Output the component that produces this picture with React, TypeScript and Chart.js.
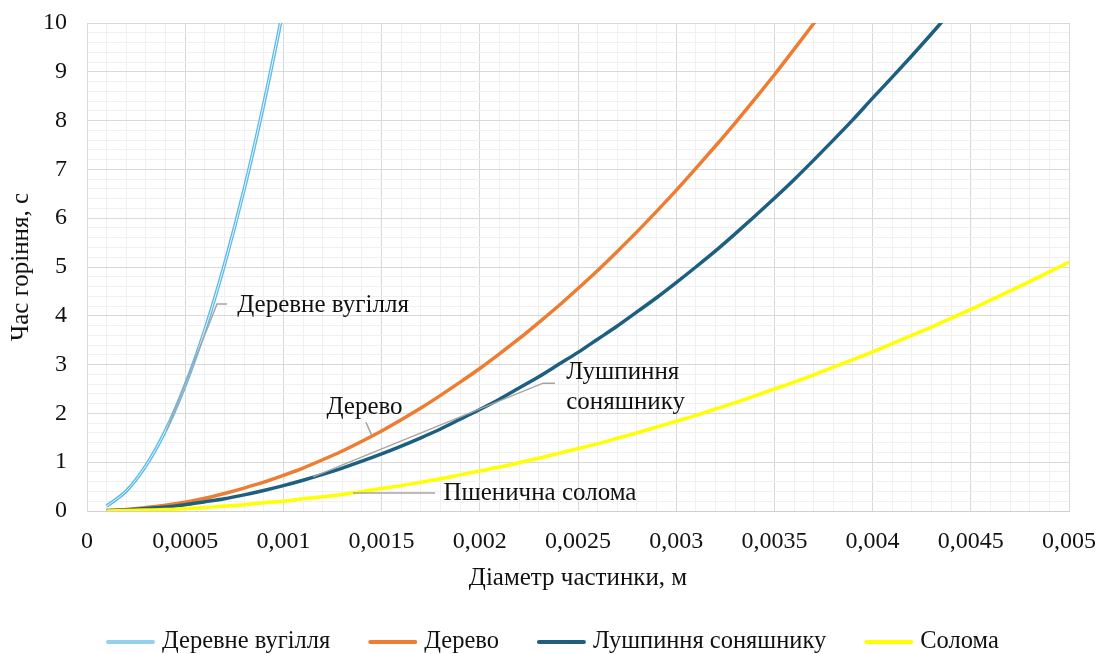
import React, { useEffect, useRef } from 'react';
import { Chart, registerables } from 'chart.js';

Chart.register(...registerables);

// Particle diameter, m
const diameters = [
  0.0001, 0.0002, 0.0003, 0.0004, 0.0005, 0.0006, 0.0007, 0.0008, 0.0009, 0.001,
  0.0011, 0.0012, 0.0013, 0.0014, 0.0015, 0.0016, 0.0017, 0.0018, 0.0019, 0.002,
  0.0021, 0.0022, 0.0023, 0.0024, 0.0025, 0.0026, 0.0027, 0.0028, 0.0029, 0.003,
  0.0031, 0.0032, 0.0033, 0.0034, 0.0035, 0.0036, 0.0037, 0.0038, 0.0039, 0.004,
  0.0041, 0.0042, 0.0043, 0.0044, 0.0045, 0.0046, 0.0047, 0.0048, 0.0049, 0.005,
];

// Burning time, s
const charcoal = [0.1, 0.41, 0.93, 1.65, 2.58, 3.71, 5.05, 6.59, 8.34, 10.3, 12.46];
const wood = [
  0.01, 0.03, 0.07, 0.12, 0.18, 0.26, 0.36, 0.47, 0.59, 0.73,
  0.88, 1.05, 1.23, 1.43, 1.64, 1.87, 2.11, 2.37, 2.64, 2.92,
  3.22, 3.53, 3.86, 4.2, 4.56, 4.93, 5.32, 5.72, 6.14, 6.57,
  7.02, 7.48, 7.95, 8.44, 8.94, 9.46, 9.99, 10.54,
];
const sunflowerHusk = [
  0.01, 0.02, 0.05, 0.08, 0.13, 0.19, 0.25, 0.33, 0.42, 0.52,
  0.63, 0.75, 0.88, 1.02, 1.17, 1.33, 1.5, 1.68, 1.88, 2.08,
  2.29, 2.52, 2.75, 3.0, 3.25, 3.52, 3.79, 4.08, 4.37, 4.68,
  5.0, 5.33, 5.68, 6.04, 6.41, 6.79, 7.19, 7.6, 8.02, 8.46,
  8.89, 9.33, 9.78, 10.24, 10.71,
];
const straw = [
  0.0, 0.01, 0.02, 0.03, 0.05, 0.07, 0.1, 0.13, 0.17, 0.2,
  0.25, 0.29, 0.34, 0.4, 0.46, 0.52, 0.59, 0.66, 0.74, 0.82,
  0.9, 0.99, 1.08, 1.18, 1.28, 1.38, 1.49, 1.6, 1.72, 1.84,
  1.96, 2.09, 2.22, 2.36, 2.5, 2.64, 2.79, 2.95, 3.1, 3.26,
  3.43, 3.6, 3.77, 3.95, 4.13, 4.32, 4.51, 4.7, 4.9, 5.1,
];

const seriesNames = ['Деревне вугілля', 'Дерево', 'Лушпиння соняшнику', 'Солома'];
const seriesColors = ['#5bb9ea', '#ed7d31', '#1d5f80', '#ffff00'];
const legendColors = ['#93d0ee', '#ed7d31', '#1d5f80', '#ffff00'];

const xTickLabels = ['0', '0,0005', '0,001', '0,0015', '0,002', '0,0025', '0,003', '0,0035', '0,004', '0,0045', '0,005'];
const yTickLabels = ['0', '1', '2', '3', '4', '5', '6', '7', '8', '9', '10'];
const xTitle = 'Діаметр частинки, м';
const yTitle = 'Час горіння, с';

// Data labels with leader lines (data coordinates)
const calloutTexts = [['Деревне вугілля'], ['Дерево'], ['Лушпиння', 'соняшнику'], ['Пшенична солома']];
const calloutAnchors = [
  { x: 0.000765, y: 4.22, align: 'left' },
  { x: 0.001413, y: 2.12, align: 'center' },
  { x: 0.00244, y: 2.54, align: 'left' },
  { x: 0.001815, y: 0.37, align: 'left' },
];
const calloutLines = [
  [[0.000407, 1.66], [0.000662, 4.24], [0.000713, 4.24]],
  [[0.00142, 1.82], [0.001451, 1.54]],
  [[0.001151, 0.7], [0.002322, 2.62], [0.002383, 2.62]],
  [[0.001354, 0.37], [0.001772, 0.37]],
];

const FONT = '"Liberation Serif", "Times New Roman", serif';
const TICK_FS = 24;
const TITLE_FS = 25;
const LEGEND_FS = 24.5;
const CALLOUT_FS = 25;

const toPoints = (vals: number[]) => vals.map((v, i) => ({ x: diameters[i], y: v }));

const calloutPlugin = {
  id: 'callouts',
  afterDatasetsDraw(chart: any) {
    const { ctx, scales } = chart;
    const xs = scales.x;
    const ys = scales.y;
    ctx.save();
    ctx.strokeStyle = '#a5a5a5';
    ctx.lineWidth = 1.5;
    calloutLines.forEach((pts) => {
      ctx.beginPath();
      pts.forEach((p, i) => {
        const px = xs.getPixelForValue(p[0]);
        const py = ys.getPixelForValue(p[1]);
        if (i === 0) ctx.moveTo(px, py);
        else ctx.lineTo(px, py);
      });
      ctx.stroke();
    });
    ctx.fillStyle = '#111';
    ctx.font = `${CALLOUT_FS}px ${FONT}`;
    ctx.textBaseline = 'middle';
    calloutTexts.forEach((lines, i) => {
      const a = calloutAnchors[i];
      const px = xs.getPixelForValue(a.x);
      const py = ys.getPixelForValue(a.y);
      ctx.textAlign = a.align;
      const lh = 30;
      const startY = py - ((lines.length - 1) * lh) / 2;
      lines.forEach((t, j) => ctx.fillText(t, px, startY + j * lh));
    });
    ctx.restore();
  },
};

const legendPlugin = {
  id: 'customLegend',
  afterDraw(chart: any) {
    const { ctx } = chart;
    ctx.save();
    ctx.font = `${LEGEND_FS}px ${FONT}`;
    const boxW = 49;
    const gap = 7;
    const itemGap = 38;
    const widths = seriesNames.map((n) => boxW + gap + ctx.measureText(n).width);
    let x = 106;
    const y = 642;
    ctx.textBaseline = 'middle';
    ctx.textAlign = 'left';
    seriesNames.forEach((n, i) => {
      ctx.strokeStyle = legendColors[i];
      ctx.lineWidth = 4;
      ctx.lineCap = 'round';
      ctx.beginPath();
      ctx.moveTo(x + 2, y);
      ctx.lineTo(x + boxW - 2, y);
      ctx.stroke();
      ctx.fillStyle = '#111';
      ctx.fillText(n, x + boxW + gap, y);
      x += widths[i] + itemGap;
    });
    ctx.restore();
  },
};

export default function App() {
  const ref = useRef<HTMLCanvasElement | null>(null);

  useEffect(() => {
    document.body.style.margin = '0';
    const canvas = ref.current;
    if (!canvas) return;
    const line = (label: string, vals: number[], color: string, width: number) => ({
      label,
      data: toPoints(vals),
      borderColor: color,
      borderWidth: width,
      pointRadius: 0,
      cubicInterpolationMode: 'monotone',
      clip: 0,
    });
    const chart = new Chart(canvas, {
      type: 'line',
      data: {
        datasets: [
          line('overlay', charcoal, 'rgba(255,255,255,0.85)', 1),
          line(seriesNames[3], straw, seriesColors[3], 3.5),
          line(seriesNames[0], charcoal, seriesColors[0], 3.5),
          line(seriesNames[2], sunflowerHusk, seriesColors[2], 3.5),
          line(seriesNames[1], wood, seriesColors[1], 3.5),
        ],
      },
      options: {
        responsive: false,
        animation: false,
        events: [],
        layout: { padding: { left: 0, right: 30, top: 23, bottom: 0 } },
        plugins: {
          legend: { display: false },
          tooltip: { enabled: false },
        },
        scales: {
          x: {
            type: 'linear',
            min: 0,
            max: 0.005,
            afterFit: (s: any) => {
              s.height = 143;
              s.paddingLeft = 0;
              s.paddingRight = 0;
            },
            border: { display: true, color: '#d0d0d0', width: 1 },
            grid: {
              drawTicks: false,
              color: (c: any) => (c.index % 5 === 0 ? '#d9d9d9' : '#f0f0f0'),
              lineWidth: 1,
            },
            ticks: {
              stepSize: 0.0001,
              autoSkip: false,
              maxRotation: 0,
              minRotation: 0,
              padding: 16,
              color: '#111',
              font: { family: FONT, size: TICK_FS },
              callback: (_v: any, i: number) => (i % 5 === 0 ? xTickLabels[i / 5] : ''),
            },
            title: {
              display: true,
              text: xTitle,
              color: '#111',
              font: { family: FONT, size: TITLE_FS },
              padding: { top: 0, bottom: 61 },
            },
          },
          y: {
            type: 'linear',
            min: 0,
            max: 10,
            afterFit: (s: any) => {
              s.width = 87;
              s.paddingTop = 0;
              s.paddingBottom = 0;
            },
            border: { display: true, color: '#d9d9d9', width: 1 },
            grid: {
              drawTicks: false,
              color: (c: any) => (c.index % 5 === 0 ? '#d9d9d9' : '#f0f0f0'),
              lineWidth: 1,
            },
            ticks: {
              stepSize: 0.2,
              autoSkip: false,
              padding: 20,
              color: '#111',
              font: { family: FONT, size: TICK_FS },
              callback: (_v: any, i: number) => (i % 5 === 0 ? yTickLabels[i / 5] : ''),
            },
            title: {
              display: true,
              text: yTitle,
              color: '#111',
              font: { family: FONT, size: TITLE_FS },
              padding: { top: 6, bottom: 0 },
            },
          },
        },
      },
      plugins: [calloutPlugin, legendPlugin],
    } as any);
    return () => chart.destroy();
  }, []);

  return (
    <div style={{ position: 'fixed', left: 0, top: 0, width: 1099, height: 654, background: '#fff' }}>
      <canvas ref={ref} width={1099} height={654} style={{ width: 1099, height: 654, display: 'block' }} />
    </div>
  );
}
